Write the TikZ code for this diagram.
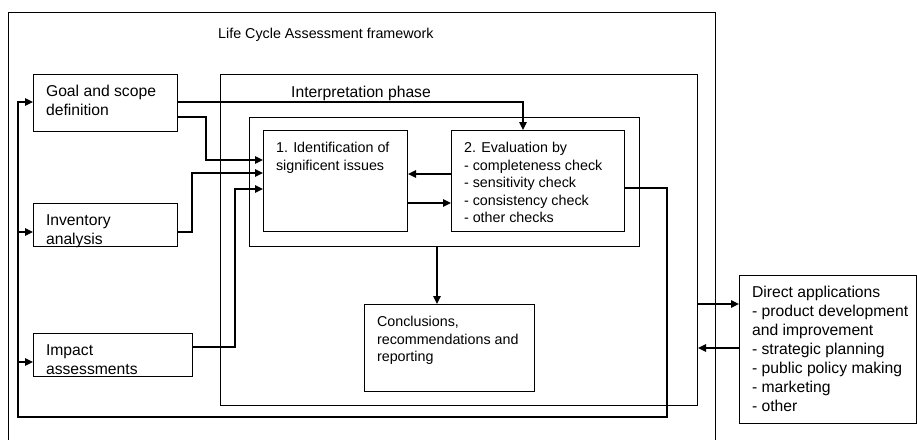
\documentclass[tikz,border=0pt]{standalone}
\usepackage{fontspec}
\setmainfont{Liberation Sans}
\usetikzlibrary{arrows.meta, calc}

\newcommand{\bigtext}{\fontsize{15.7}{19}\selectfont}
\newcommand{\smalltext}{\fontsize{14.3}{17.6}\selectfont}
\newcommand{\boxtext}[3]{\parbox[c][#2][t]{#1}{\raggedright\leftskip=12.5pt\vspace*{\dimexpr22pt-\ht\strutbox\relax}\strut#3}}

\begin{document}
\begin{tikzpicture}[x=1pt, y=-1pt,
    stepbox/.style={rectangle, draw, line width=1.1pt, inner sep=0pt, anchor=north west},
    plain/.style={inner sep=0pt, anchor=base west},
    link/.style={-{Triangle[length=8pt, width=7.5pt]}, line width=1.6pt}]
    \useasboundingbox (0,0) rectangle (917,439);
    \clip (0,0) rectangle (917,439);
    % Nodes
    \node [stepbox, minimum width=707, minimum height=460] (lca) at (8,12) {};
    \node [plain, font=\smalltext] (lcatitle) at (218,38) {Life Cycle Assessment framework};
    \node [stepbox, minimum width=477, minimum height=331] (interp) at (220,74) {};
    \node [plain, font=\bigtext] (interptitle) at (291,97) {Interpretation phase};
    \node [stepbox, minimum width=390, minimum height=129] (evalgroup) at (249,117) {};
    \node [stepbox, font=\bigtext] (goal) at (33,74) {\boxtext{144pt}{57pt}{Goal and scope\\definition}};
    \node [stepbox, font=\bigtext] (inv) at (33,203) {\boxtext{144pt}{43pt}{Inventory\\analysis}};
    \node [stepbox, font=\bigtext] (impact) at (33,333) {\boxtext{159pt}{43pt}{Impact\\assessments}};
    \node [stepbox, font=\smalltext] (ident) at (263,130) {\boxtext{144pt}{101pt}{1. Identification of\\significent issues}};
    \node [stepbox, font=\smalltext] (eval) at (451,130) {\boxtext{173pt}{101pt}{2. Evaluation by\\- completeness check\\- sensitivity check\\- consistency check\\- other checks}};
    \node [stepbox, font=\smalltext] (concl) at (364,304) {\boxtext{170pt}{87pt}{Conclusions,\\recommendations and\\reporting}};
    \node [stepbox, font=\bigtext] (apps) at (739,275) {\boxtext{177pt}{148pt}{Direct applications\\- product development\\and improvement\\- strategic planning\\- public policy making\\- marketing\\- other}};

    \coordinate (loopcorner) at (667,417);
    \coordinate (loopleft) at (18,417);
    \coordinate (invin) at ($(inv.north west)+(0,29)$);
    \coordinate (impactin) at ($(impact.north west)+(0,29)$);
    \coordinate (appin) at ($(apps.north west)+(0,29)$);
    \coordinate (appout) at ($(apps.north west)+(0,73)$);

    % Edges
    \draw [link, line width=1.1pt] ($(goal.north east)+(0,28)$) -| ($(eval.north west)+(72,0)$);
    \draw [link] ($(goal.north east)+(0,43)$) -| (206,160) -- ($(ident.north west)+(0,30)$);
    \draw [link] ($(inv.north east)+(0,29)$) -| (192,173) -- ($(ident.north west)+(0,43)$);
    \draw [link] ($(impact.north east)+(0,14)$) -| (235,189) -- ($(ident.north west)+(0,59)$);
    \draw [link] ($(eval.north west)+(0,44)$) -- ($(ident.north east)+(0,44)$);
    \draw [link] ($(ident.north east)+(0,73)$) -- ($(eval.north west)+(0,73)$);
    \draw [link] (evalgroup.south -| 437,0) -- (concl.north -| 437,0);
    \draw [link] ($(eval.north east)+(0,58)$) -| (loopcorner) -| ($(goal.north west)+(-15,28)$) -- ($(goal.north west)+(0,28)$);
    \draw [link] (loopleft |- invin) -- (invin);
    \draw [link] (loopleft |- impactin) -- (impactin);
    \draw [link] (interp.east |- appin) -- (appin);
    \draw [link] (appout) -- (interp.east |- appout);
\end{tikzpicture}
\end{document}
